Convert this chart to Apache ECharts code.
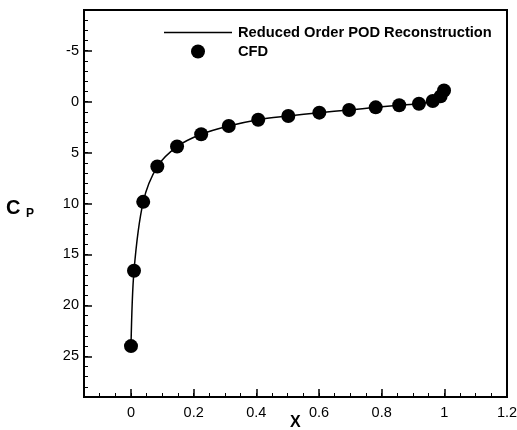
<!DOCTYPE html>
<html>
<head>
<meta charset="utf-8">
<style>
  html, body { margin: 0; padding: 0; background: #fff; }
  #chart { width: 517px; height: 430px; }
</style>
<script src="https://cdn.jsdelivr.net/npm/echarts@6/dist/echarts.min.js"></script>
</head>
<body>
<div id="chart"></div>
<script>
// Chordwise stations (x/c) of the surface samples
const xStations = [0, 0.0096, 0.039, 0.084, 0.147, 0.224, 0.312, 0.406, 0.502, 0.601, 0.696, 0.781, 0.856, 0.919, 0.963, 0.988, 0.999];
// Pressure coefficient from the CFD solution
const cpCFD = [24.0, 16.6, 9.84, 6.37, 4.41, 3.2, 2.39, 1.77, 1.41, 1.08, 0.82, 0.56, 0.36, 0.2, -0.06, -0.52, -1.1];
// Pressure coefficient from the reduced order POD reconstruction
const cpPOD = [24.0, 16.6, 9.84, 6.37, 4.41, 3.2, 2.39, 1.77, 1.41, 1.08, 0.82, 0.56, 0.36, 0.2, -0.06, -0.52, -1.1];

// Tick labels
const xTicks = [0, 0.2, 0.4, 0.6, 0.8, 1, 1.2];
const yTicks = [-5, 0, 5, 10, 15, 20, 25];

const seriesNames = ['Reduced Order POD Reconstruction', 'CFD'];

const FONT = 'Liberation Sans, Arial, Helvetica, sans-serif';

const podData = xStations.map((x, i) => [x, cpPOD[i]]);
const cfdData = xStations.map((x, i) => [x, cpCFD[i]]);

const chart = echarts.init(document.getElementById('chart'), null, { renderer: 'canvas' });

const baseX = { type: 'value', min: -0.15, max: 1.2, position: 'bottom', splitLine: { show: false } };
const baseY = { type: 'value', min: -9, max: 29, inverse: true, position: 'left', splitLine: { show: false } };

chart.setOption({
  animation: false,
  backgroundColor: '#fff',
  grid: {
    left: 84, right: 10, top: 10, bottom: 33,
    outerBoundsMode: 'none', containLabel: false,
    show: true, borderColor: '#000', borderWidth: 2, backgroundColor: 'transparent', z: -1
  },
  legend: {
    data: [
      { name: seriesNames[0], icon: 'path://M0,0L68,0L68,1.5L0,1.5Z' },
      { name: seriesNames[1], icon: 'circle' }
    ],
    orient: 'vertical',
    left: 159, top: 20,
    itemWidth: 68, itemHeight: 14, itemGap: 4,
    textStyle: { fontFamily: FONT, fontSize: 14.7, fontWeight: 'bold', color: '#000', padding: [0, 0, 0, 1] }
  },
  graphic: [
    // axis titles: C with subscript P, and X
    { type: 'text', left: 6, top: 198, style: { text: 'C', font: 'bold 20px ' + FONT, fill: '#000' } },
    { type: 'text', left: 26, top: 208, style: { text: 'P', font: 'bold 12px ' + FONT, fill: '#000' } },
    { type: 'text', left: 290, top: 415, style: { text: 'X', font: 'bold 16px ' + FONT, fill: '#000' } }
  ],
  xAxis: [
    Object.assign({}, baseX, {
      interval: 0.05,
      axisLine: { show: true, onZero: false, lineStyle: { color: '#000', width: 2 } },
      axisTick: { show: true, inside: true, length: 4, lineStyle: { color: '#000', width: 1 } },
      axisLabel: { show: false },
      z: 5
    }),
    Object.assign({}, baseX, {
      axisLine: { show: false, onZero: false },
      axisTick: { show: true, inside: true, length: 8, customValues: xTicks, lineStyle: { color: '#000', width: 1.5 } },
      axisLabel: { show: true, customValues: xTicks, margin: 8, color: '#000', fontFamily: FONT, fontSize: 14.5 },
      z: 5
    })
  ],
  yAxis: [
    Object.assign({}, baseY, {
      interval: 1,
      axisLine: { show: true, onZero: false, lineStyle: { color: '#000', width: 2 } },
      axisTick: { show: true, inside: true, length: 4, lineStyle: { color: '#000', width: 1 } },
      axisLabel: { show: false },
      z: 5
    }),
    Object.assign({}, baseY, {
      axisLine: { show: false, onZero: false },
      axisTick: { show: true, inside: true, length: 8, customValues: yTicks, lineStyle: { color: '#000', width: 1.5 } },
      axisLabel: { show: true, customValues: yTicks, margin: 5, color: '#000', fontFamily: FONT, fontSize: 14.5 },
      z: 5
    })
  ],
  series: [
    {
      name: seriesNames[0], type: 'line', data: podData,
      xAxisIndex: 0, yAxisIndex: 0,
      symbol: 'none', smooth: 0.3,
      lineStyle: { color: '#000', width: 1.5 },
      itemStyle: { color: '#000' }
    },
    {
      name: seriesNames[1], type: 'scatter', data: cfdData,
      xAxisIndex: 0, yAxisIndex: 0,
      symbol: 'circle', symbolSize: 14,
      itemStyle: { color: '#000', opacity: 1 }
    }
  ]
});
</script>
</body>
</html>
